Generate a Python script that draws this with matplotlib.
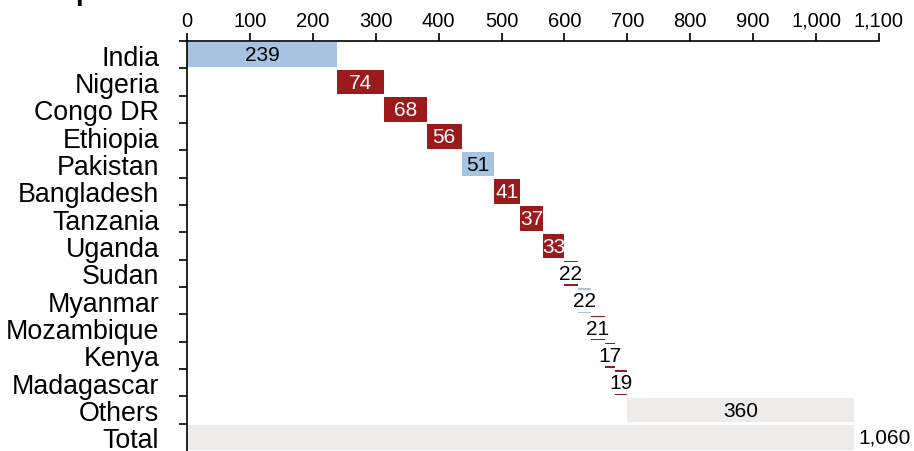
import numpy as np
import matplotlib.pyplot as plt
from matplotlib.ticker import FuncFormatter

plt.rcParams['font.family'] = ['Liberation Sans', 'DejaVu Sans']

countries = ['India', 'Nigeria', 'Congo DR', 'Ethiopia', 'Pakistan', 'Bangladesh',
             'Tanzania', 'Uganda', 'Sudan', 'Myanmar', 'Mozambique', 'Kenya',
             'Madagascar', 'Others', 'Total']
values = [239, 74, 68, 56, 51, 41, 37, 33, 22, 22, 21, 17, 19, 360, 1060]
groups = ['blue', 'red', 'red', 'red', 'blue', 'red', 'red', 'red', 'red',
          'blue', 'red', 'red', 'red', 'grey', 'grey']

palette = {'blue': '#a6c3e2', 'red': '#9b1a1c', 'grey': '#edeceb'}


def main():
    fig = plt.figure(figsize=(9.14, 4.52), dpi=100)
    ax = fig.add_axes([0.2046, 0.0, 0.757, 0.907])

    starts = []
    run = 0
    for c, v in zip(countries, values):
        if c == 'Total':
            starts.append(0)
        else:
            starts.append(run)
            run += v

    y = np.arange(len(countries))
    colors = [palette[g] for g in groups]
    ax.barh(y, values, left=starts, height=0.9, color=colors, zorder=2)

    fs = 15
    for i, (s, v, g) in enumerate(zip(starts, values, groups)):
        if countries[i] == 'Total':
            ax.text(s + v + 8, i, f'{v:,}', ha='left', va='center',
                    fontsize=fs, color='black', clip_on=False)
        elif v < 30:
            # small steps: white label box hides most of the bar
            ax.text(s + v / 2, i, f'{v:,}', ha='center', va='center',
                    fontsize=fs, color='black', zorder=3,
                    bbox=dict(boxstyle='square,pad=0.07', fc='white', ec='none'))
        else:
            tc = 'white' if g == 'red' else 'black'
            ax.text(s + v / 2, i, f'{v:,}', ha='center', va='center',
                    fontsize=fs, color=tc, zorder=3)

    ax.set_xlim(0, 1100)
    ax.set_ylim(len(countries) - 0.5, -0.5)
    ax.set_xticks(np.arange(0, 1101, 100))
    ax.xaxis.set_major_formatter(FuncFormatter(lambda x, p: f'{int(x):,}'))
    ax.xaxis.tick_top()
    ax.tick_params(axis='x', labelsize=14.5, length=6, width=1.2, pad=2)

    # category labels between boundary ticks
    ax.set_yticks(np.arange(-0.5, len(countries) - 0.5, 1))
    ax.set_yticklabels([])
    ax.set_yticks(y, minor=True)
    ax.set_yticklabels(countries, minor=True, fontsize=19.3)
    ax.tick_params(axis='y', which='major', length=6, width=1.2)
    ax.tick_params(axis='y', which='minor', length=0, pad=20)

    for side in ['right', 'bottom']:
        ax.spines[side].set_visible(False)
    ax.spines['left'].set_linewidth(1.2)
    ax.spines['top'].set_linewidth(1.2)

    # clipped title, only the descender shows at the top edge
    fig.text(0.082, 1.0, 'p', fontsize=20, fontweight='bold', va='baseline')

    fig.savefig('out.png', dpi=100)


if __name__ == '__main__':
    main()
